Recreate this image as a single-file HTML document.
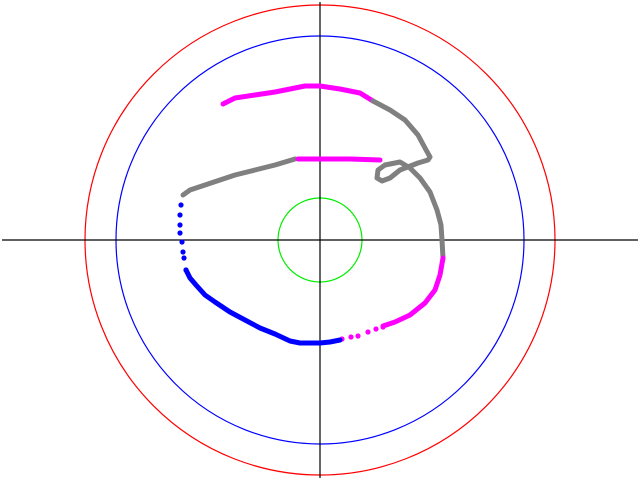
<!DOCTYPE html>
<html><head><meta charset="utf-8"><style>
html,body{margin:0;padding:0;background:#fff;width:640px;height:480px;overflow:hidden}
</style></head><body>
<svg id="chart" width="640" height="480" viewBox="0 0 640 480" xmlns="http://www.w3.org/2000/svg">
<rect width="640" height="480" fill="#fff"/>
<g id="rings"></g>
<g id="axes"></g>
<g id="series"></g>
</svg>
<script>
// data units: offsets from origin, x right, y up
const ringRadii = [235, 204, 42];
const ringColors = ['#ff0000', '#0000ff', '#00ee00'];
const segColors = ['#ff00ff', '#808080', '#ff00ff', '#ff00ff', '#0000ff', '#0000ff', '#808080', '#ff00ff'];
const segDense = [true, true, true, false, true, false, true, true];
const segX = [
 [-97,-85,-65,-45,-25,-15,0,20,40,53],
 [53,70,85,98,105,110,108,98,80,70,62,57,58,65,80,90,100,110,117,121,122,123],
 [123,120,115,105,90,75,63],
 [63,56,48,38,31,22],
 [20,10,0,-20,-30,-45,-60,-75,-90,-105,-115,-124,-130,-134],
 [-134,-136,-137,-138,-140,-140,-140,-139],
 [-137,-130,-115,-100,-85,-65,-45,-25],
 [-22,0,30,60]
];
const segY = [
 [136,142,145,148,152,154,154,151,147,139],
 [139,130,120,105,92,83,80,77,70,62,59,62,70,75,78,72,62,48,30,15,0,-18],
 [-18,-35,-50,-63,-75,-82,-86],
 [-87,-89,-92,-96,-97,-99],
 [-100,-102,-103,-103,-101,-94,-88,-80,-72,-62,-55,-45,-38,-30],
 [-30,-18,-12,-2,7,15,25,35],
 [45,50,55,60,65,70,75,81],
 [81,81,81,80]
];
const cx = 320, cy = 240;
function sx(v){ return cx + v; }
function sy(v){ return cy - v; }
const NS = 'http://www.w3.org/2000/svg';
const rings = document.getElementById('rings');
ringRadii.forEach((r,i)=>{
  const c = document.createElementNS(NS,'circle');
  c.setAttribute('cx',cx); c.setAttribute('cy',cy); c.setAttribute('r',r);
  c.setAttribute('fill','none'); c.setAttribute('stroke',ringColors[i]); c.setAttribute('stroke-width','1.2');
  
  
  rings.appendChild(c);
});
const axes = document.getElementById('axes');
const hx = document.createElementNS(NS,'line');
hx.setAttribute('x1',2); hx.setAttribute('x2',638); hx.setAttribute('y1',cy); hx.setAttribute('y2',cy);
hx.setAttribute('stroke','#000'); hx.setAttribute('stroke-width','1.2');


axes.appendChild(hx);
const vy = document.createElementNS(NS,'line');
vy.setAttribute('x1',cx); vy.setAttribute('x2',cx); vy.setAttribute('y1',2); vy.setAttribute('y2',478);
vy.setAttribute('stroke','#000'); vy.setAttribute('stroke-width','1.2');


axes.appendChild(vy);
const series = document.getElementById('series');
segX.forEach((xs,i)=>{
  const ys = segY[i];
  if (segDense[i]) {
    const p = document.createElementNS(NS,'polyline');
    p.setAttribute('points', xs.map((x,j)=>sx(x)+','+sy(ys[j])).join(' '));
    p.setAttribute('fill','none'); p.setAttribute('stroke',segColors[i]);
    p.setAttribute('stroke-width','5'); p.setAttribute('stroke-linejoin','round'); p.setAttribute('stroke-linecap','round');
    
    
    series.appendChild(p);
  } else {
    xs.forEach((x,j)=>{
      const c = document.createElementNS(NS,'circle');
      c.setAttribute('cx',sx(x)); c.setAttribute('cy',sy(ys[j])); c.setAttribute('r','2.6');
      c.setAttribute('fill',segColors[i]);
      
      
      series.appendChild(c);
    });
  }
});
</script>
</body></html>
